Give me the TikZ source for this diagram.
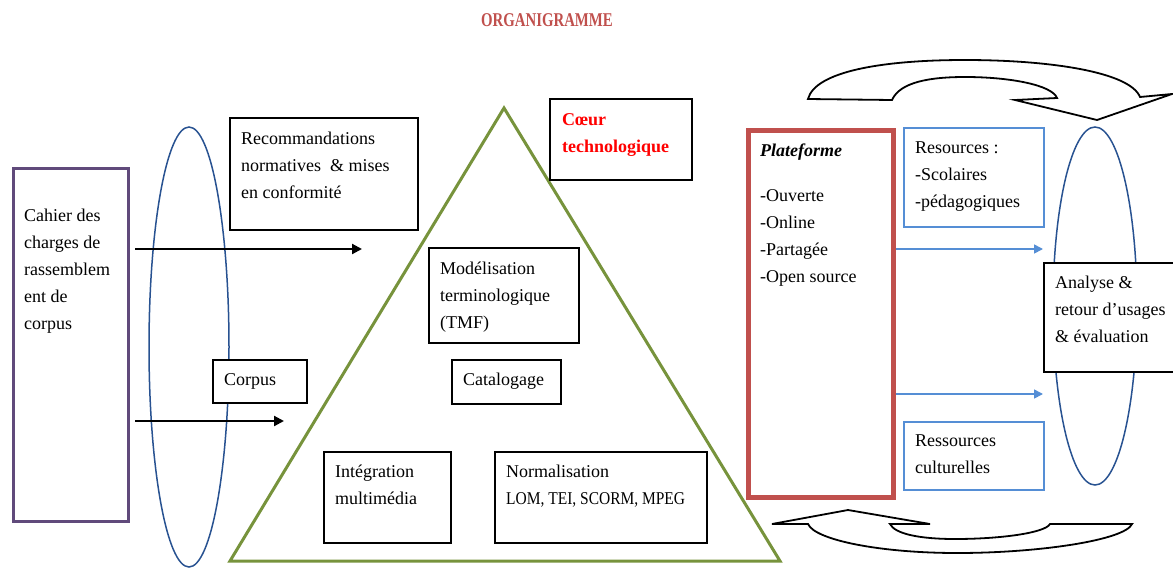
\documentclass[tikz,border=0pt]{standalone}
\usepackage{fontspec}
\setmainfont{Liberation Serif}
\newfontfamily\titlefont[FakeStretch=0.76]{Liberation Serif}
\newfontfamily\narrowfont[FakeStretch=0.86]{Liberation Serif}
\usetikzlibrary{arrows.meta,calc,shapes.geometric}
\definecolor{purp}{RGB}{96,74,123}
\definecolor{ellblue}{RGB}{40,82,145}
\definecolor{trigreen}{RGB}{119,147,60}
\definecolor{platred}{RGB}{192,80,77}
\definecolor{lightblue}{RGB}{85,142,213}
\definecolor{titlered}{RGB}{192,80,77}
\begin{document}
\begin{tikzpicture}[x=1pt,y=-1pt,
  box/.style={draw=black,line width=2pt,fill=white,anchor=north west,inner sep=0pt},
  bluebox/.style={draw=lightblue,line width=1.5pt,fill=white,anchor=north west,inner sep=0pt},
  txt/.style={anchor=north west,inner sep=0pt,align=left,font=\fontsize{18}{27}\selectfont},
  ell/.style={draw=ellblue,line width=1.5pt,ellipse,inner sep=0pt},
  blackarrow/.style={draw=black,line width=2.2pt,-{Triangle[length=10pt,width=10pt]}},
  bluearrow/.style={draw=lightblue,line width=1.6pt,-{Triangle[length=9pt,width=9pt]}},
  curvearrow/.style={draw=black,line width=1.8pt,fill=white,line join=miter}]
\useasboundingbox (0,0) rectangle (1173,568);

% title
\node[anchor=base,inner sep=0pt,text=titlered,font=\titlefont\bfseries\fontsize{19.5}{22}\selectfont] (title) at (547,26.7) {ORGANIGRAMME};

% ellipses
\node[ell,minimum width=80pt,minimum height=440pt] (ellL) at (189,347) {};
\node[ell,minimum width=84pt,minimum height=358pt] (ellR) at (1095,306) {};

% left purple box
\node[draw=purp,line width=3pt,fill=white,anchor=north west,inner sep=0pt,minimum width=115pt,minimum height=353pt] (cahier) at (12,167) {};
\node[txt] (cahierT) at (24,209) {Cahier des\\charges de\\rassemblem\\ent de\\corpus};

% black arrows
\coordinate (a1s) at (135,249);
\coordinate (a1e) at (362,249);
\coordinate (a2s) at (135,421);
\coordinate (a2e) at (284,421);
\draw[blackarrow] (a1s) -- (a1e);
\draw[blackarrow] (a2s) -- (a2e);

% triangle
\coordinate (tA) at (504,108);
\coordinate (tB) at (230,561);
\coordinate (tC) at (780,561);
\draw[draw=trigreen,line width=3pt,line join=miter] (tA) -- (tB) -- (tC) -- cycle;

% boxes
\node[box,minimum width=188pt,minimum height=112pt] (rec) at (229,117) {};
\node[txt] (recT) at (241,132) {Recommandations\\normatives\ \ \& mises\\en conformité};

\node[box,minimum width=94pt,minimum height=43pt] (corpus) at (212,359) {};
\node[txt] (corpusT) at (224,373) {Corpus};

\node[box,minimum width=142pt,minimum height=81pt] (coeur) at (549,98) {};
\node[txt,text=red,font=\bfseries\fontsize{18}{27}\selectfont] (coeurT) at (562,113) {Cœur\\technologique};

\node[box,minimum width=150pt,minimum height=95pt] (model) at (428,247) {};
\node[txt] (modelT) at (440,262) {Modélisation\\terminologique\\(TMF)};

\node[box,minimum width=109pt,minimum height=44pt] (catal) at (451,359) {};
\node[txt] (catalT) at (463,373) {Catalogage};

\node[box,minimum width=127pt,minimum height=91pt] (integ) at (323,451) {};
\node[txt] (integT) at (335,465) {Intégration\\multimédia};

\node[box,minimum width=212pt,minimum height=91pt] (norm) at (494,451) {};
\node[txt] (normT) at (506,465) {Normalisation\\{\narrowfont LOM, TEI, SCORM, MPEG}};

% plateforme
\node[draw=platred,line width=5pt,fill=white,anchor=north west,inner sep=0pt,minimum width=145pt,minimum height=367pt] (plat) at (746,128) {};
\node[txt,font=\bfseries\itshape\fontsize{18}{27}\selectfont] (platT) at (760,144) {Plateforme};
\node[txt] (platL) at (760,189) {-Ouverte\\-Online\\-Partagée\\-Open source};

% resources boxes
\node[bluebox,minimum width=140pt,minimum height=99pt] (resS) at (903,127) {};
\node[txt] (resST) at (915,142) {Resources :\\-Scolaires\\-pédagogiques};

\node[bluebox,minimum width=140pt,minimum height=68pt] (resC) at (903,421) {};
\node[txt] (resCT) at (915,435) {Ressources\\culturelles};

% blue arrows
\coordinate (b1) at (1043,249);
\coordinate (b2) at (1043,394);
\draw[bluearrow] (plat.east |- b1) -- (b1);
\draw[bluearrow] (plat.east |- b2) -- (b2);

% analyse box
\node[box,minimum width=140pt,minimum height=109pt] (analyse) at (1043,262) {};
\node[txt] (analyseT) at (1055,276) {Analyse \&\\retour d’usages\\\& évaluation};

% top curved arrow
\draw[curvearrow] (808,99) -- (892,100)
  .. controls (900,82) and (930,77) .. (965,77)
  .. controls (1010,77) and (1052,85) .. (1057,98)
  -- (1015,100) -- (1097,120) -- (1172,94) -- (1140,97)
  .. controls (1130,72) and (1050,60) .. (965,60)
  .. controls (880,60) and (815,72) .. (808,99) -- cycle;

% bottom curved arrow
\draw[curvearrow] (772,524) -- (848,510) -- (930,524) -- (890,524)
  .. controls (895,534) and (920,539) .. (955,539)
  .. controls (1000,539) and (1045,533) .. (1050,524)
  -- (1132,524)
  .. controls (1125,540) and (1040,553) .. (957,553)
  .. controls (880,553) and (815,540) .. (808,524) -- cycle;
\end{tikzpicture}
\end{document}
